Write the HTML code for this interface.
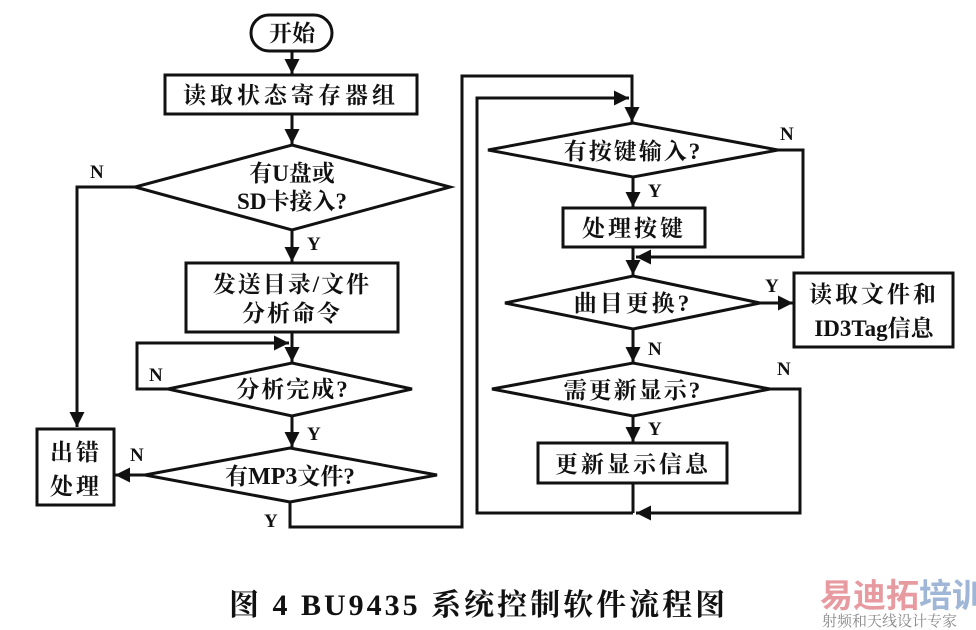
<!DOCTYPE html>
<html><head><meta charset="utf-8"><style>
html,body{margin:0;padding:0;background:#fff;}
svg{display:block;}
text{font-family:"Liberation Serif","Noto Serif CJK SC","Noto Sans CJK SC",serif;fill:#111;}
.t{font-size:23px;text-anchor:middle;font-weight:bold;}
.l{font-size:19px;font-weight:bold;}
</style></head><body>
<svg width="976" height="630" viewBox="0 0 976 630" xmlns="http://www.w3.org/2000/svg">
<defs>
<marker id="b" viewBox="0 0 10 10" refX="10" refY="5" markerWidth="5.5" markerHeight="5" orient="auto"><path d="M0,0 L10,5 L0,10 z" fill="#111"/></marker>
</defs>
<g stroke="#111" stroke-width="3" fill="none">
<rect x="251" y="15" width="81" height="36" rx="18"/>
<line x1="292" y1="51" x2="292" y2="74" marker-end="url(#b)"/>
<rect x="165" y="75" width="252" height="39"/>
<line x1="292" y1="114" x2="292" y2="144" marker-end="url(#b)"/>
<polygon points="292,145 450,187 292,230 135,187"/>
<polyline points="135,187 77,187 77,427" marker-end="url(#b)"/>
<line x1="292" y1="230" x2="292" y2="262" marker-end="url(#b)"/>
<rect x="186" y="263" width="212" height="69"/>
<line x1="292" y1="332" x2="292" y2="362" marker-end="url(#b)"/>
<polygon points="292,363 412,389 292,416 168,389"/>
<polyline points="168,389 137,389 137,343 289,343" marker-end="url(#b)"/>
<line x1="292" y1="416" x2="292" y2="447" marker-end="url(#b)"/>
<polygon points="290,448 437,475 290,502 145,475"/>
<line x1="145" y1="475" x2="115" y2="475" marker-end="url(#b)"/>
<rect x="37" y="429" width="77" height="76"/>
<polyline points="290,502 290,527 462,527 462,76 632,76 632,122" marker-end="url(#b)"/>
<polygon points="633,123 778,150 633,177 488,150"/>
<polyline points="778,150 803,150 803,257 636,257" marker-end="url(#b)"/>
<line x1="633" y1="177" x2="633" y2="207" marker-end="url(#b)"/>
<rect x="563" y="208" width="142" height="39"/>
<line x1="633" y1="247" x2="633" y2="275" marker-end="url(#b)"/>
<polygon points="633,276 760,303 633,329 505,303"/>
<line x1="760" y1="303" x2="793" y2="303" marker-end="url(#b)"/>
<rect x="794" y="273" width="159" height="74"/>
<line x1="633" y1="329" x2="633" y2="362" marker-end="url(#b)"/>
<polygon points="633,363 770,389 633,416 492,389"/>
<polyline points="770,389 800,389 800,513 636,513" marker-end="url(#b)"/>
<line x1="633" y1="416" x2="633" y2="442" marker-end="url(#b)"/>
<rect x="538" y="443" width="189" height="40"/>
<line x1="633" y1="483" x2="633" y2="513"/>
<polyline points="633,513 477,513 477,98 629,98" marker-end="url(#b)"/>
</g>
<text class="t" x="292" y="41">开始</text>
<text class="t" x="291" y="103" style="letter-spacing:4px">读取状态寄存器组</text>
<text class="t" x="292" y="181">有U盘或</text>
<text class="t" x="292" y="209">SD卡接入?</text>
<text class="t" x="292" y="292" style="letter-spacing:2px">发送目录/文件</text>
<text class="t" x="292" y="321" style="letter-spacing:2px">分析命令</text>
<text class="t" x="293" y="397" style="letter-spacing:2px">分析完成?</text>
<text class="t" x="290" y="484">有<tspan style="font-size:24px">MP3</tspan>文件?</text>
<text class="t" x="76" y="460" style="letter-spacing:3px">出错</text>
<text class="t" x="76" y="494" style="letter-spacing:3px">处理</text>
<text class="t" x="633" y="159" style="letter-spacing:2px">有按键输入?</text>
<text class="t" x="634" y="236" style="letter-spacing:3px">处理按键</text>
<text class="t" x="633" y="311" style="letter-spacing:3px">曲目更换?</text>
<text class="t" x="874" y="302" style="letter-spacing:3px">读取文件和</text>
<text class="t" x="874" y="336">ID3Tag信息</text>
<text class="t" x="633" y="398" style="letter-spacing:2px">需更新显示?</text>
<text class="t" x="633" y="472" style="letter-spacing:3px">更新显示信息</text>
<text class="l" x="90" y="178">N</text>
<text class="l" x="307" y="250">Y</text>
<text class="l" x="149" y="381">N</text>
<text class="l" x="307" y="440">Y</text>
<text class="l" x="130" y="461">N</text>
<text class="l" x="264" y="527">Y</text>
<text class="l" x="780" y="140">N</text>
<text class="l" x="648" y="197">Y</text>
<text class="l" x="765" y="292">Y</text>
<text class="l" x="648" y="355">N</text>
<text class="l" x="777" y="375">N</text>
<text class="l" x="648" y="435">Y</text>
<text x="229" y="615" style="font-size:30px;font-weight:bold;letter-spacing:3px">图 4  BU9435 系统控制软件流程图</text>
<text x="820" y="607" style="font-size:33px;font-weight:bold;fill:#e79a9f;font-family:'Noto Sans CJK SC',sans-serif">易迪拓<tspan style="fill:#9fb6d6">培训</tspan></text>
<text x="822" y="626" style="font-size:15px;fill:#888;font-family:'Noto Serif CJK SC',serif">射频和天线设计专家</text>
</svg>
</body></html>
